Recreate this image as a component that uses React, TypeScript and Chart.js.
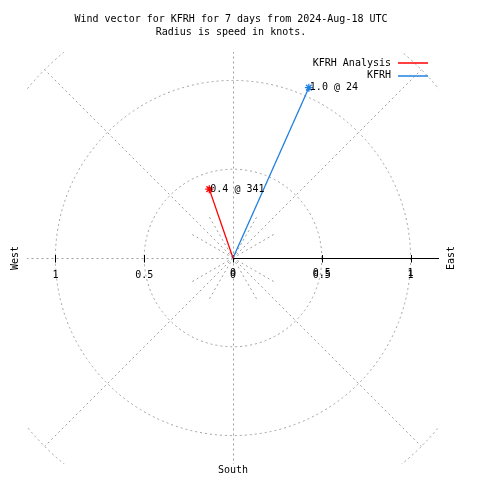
import React, { useEffect, useRef } from "react";
import { Chart, registerables } from "chart.js";

Chart.register(...registerables);

// ---- data ----
const titleLines = ["Wind vector for KFRH for 7 days from 2024-Aug-18 UTC", "Radius is speed in knots."];
const seriesNames = ["KFRH Analysis", "KFRH"];
const speeds = [0.41, 1.05];
const directions = [341, 24];
const vectorLabels = ["0.4 @ 341", "1.0 @ 24"];
const gridRadii = [0.5, 1, 1.5];
const xTickValues = [-1, -0.5, 0, 0.5, 1];
const xTickLabels = ["1", "0.5", "0", "0.5", "1"];
const rTickValues = [0, 0.5, 1];
const rTickLabels = ["0", "0.5", "1"];
const compassLabels = ["West", "East", "South"];

// ---- styles ----
const seriesColors = ["#ff0000", "#2080e0"];
const GRID = "#a0a0a0";
const FONT = "10px 'DejaVu Sans Mono', 'Liberation Mono', monospace";
const RANGE = 1.16;

const polarPlugin = {
  id: "polarDecor",
  beforeDatasetsDraw(chart: any) {
    const { ctx, chartArea } = chart;
    const xs = chart.scales.x;
    const ys = chart.scales.y;
    const cx = xs.getPixelForValue(0);
    const cy = ys.getPixelForValue(0);
    const unit = xs.getPixelForValue(1) - cx;
    ctx.save();
    ctx.beginPath();
    ctx.rect(chartArea.left, chartArea.top, chartArea.right - chartArea.left, chartArea.bottom - chartArea.top);
    ctx.clip();
    ctx.strokeStyle = GRID;
    ctx.lineWidth = 1;
    ctx.setLineDash([2, 3]);
    for (const r of gridRadii) {
      ctx.beginPath();
      ctx.arc(cx, cy, r * unit, 0, Math.PI * 2);
      ctx.stroke();
    }
    const rMax = gridRadii[gridRadii.length - 1];
    for (let a = 0; a < 360; a += 45) {
      if (a === 90) continue;
      const t = (a * Math.PI) / 180;
      ctx.beginPath();
      if (a % 90 === 0) {
        ctx.moveTo(Math.round(cx) + 0.5, Math.round(cy) + 0.5);
        ctx.lineTo(Math.round(cx + Math.sin(t) * rMax * unit) + 0.5, Math.round(cy - Math.cos(t) * rMax * unit) + 0.5);
      } else {
        ctx.moveTo(cx, cy);
        ctx.lineTo(cx + Math.sin(t) * rMax * unit, cy - Math.cos(t) * rMax * unit);
      }
      ctx.stroke();
    }
    for (let a = 30; a < 360; a += 30) {
      if (a % 90 === 0) continue;
      const t = (a * Math.PI) / 180;
      ctx.beginPath();
      ctx.moveTo(cx, cy);
      ctx.lineTo(cx + Math.sin(t) * 0.28 * unit, cy - Math.cos(t) * 0.28 * unit);
      ctx.stroke();
    }
    ctx.restore();

    ctx.save();
    ctx.strokeStyle = "#000";
    ctx.lineWidth = 1;
    const yAx = Math.round(cy) + 0.5;
    ctx.beginPath();
    ctx.moveTo(cx, yAx);
    ctx.lineTo(xs.getPixelForValue(RANGE), yAx);
    ctx.stroke();
    for (const v of xTickValues) {
      const px = Math.round(xs.getPixelForValue(v)) + 0.5;
      ctx.beginPath();
      ctx.moveTo(px, yAx - 3.5);
      ctx.lineTo(px, yAx + 4);
      ctx.stroke();
    }
    ctx.restore();
  },
  afterDraw(chart: any) {
    const { ctx } = chart;
    const xs = chart.scales.x;
    const ys = chart.scales.y;
    const cx = xs.getPixelForValue(0);
    const cy = ys.getPixelForValue(0);
    ctx.save();
    ctx.fillStyle = "#000";
    ctx.font = FONT;
    ctx.textBaseline = "middle";
    ctx.textAlign = "center";
    ctx.fillText(titleLines[0], 231, 19);
    ctx.fillText(titleLines[1], 231, 32);
    xTickValues.forEach((v, i) => {
      ctx.fillText(xTickLabels[i], xs.getPixelForValue(v), cy + 17);
    });
    rTickValues.forEach((v, i) => {
      ctx.fillText(rTickLabels[i], xs.getPixelForValue(v), cy + 15);
    });
    ctx.fillText(compassLabels[2], cx, 470);
    ctx.save();
    ctx.translate(15, cy);
    ctx.rotate(-Math.PI / 2);
    ctx.fillText(compassLabels[0], 0, 0);
    ctx.restore();
    ctx.save();
    ctx.translate(451, cy);
    ctx.rotate(-Math.PI / 2);
    ctx.fillText(compassLabels[1], 0, 0);
    ctx.restore();
    ctx.textAlign = "left";
    speeds.forEach((s, i) => {
      const t = (directions[i] * Math.PI) / 180;
      const px = xs.getPixelForValue(s * Math.sin(t));
      const py = ys.getPixelForValue(s * Math.cos(t));
      ctx.fillText(vectorLabels[i], px + 1, py);
    });
    ctx.textAlign = "right";
    seriesNames.forEach((n, i) => {
      const y = 63 + i * 12.5;
      ctx.fillStyle = "#000";
      ctx.fillText(n, 391, y);
      ctx.strokeStyle = seriesColors[i];
      ctx.lineWidth = 1.5;
      ctx.beginPath();
      ctx.moveTo(398, Math.round(y));
      ctx.lineTo(428, Math.round(y));
      ctx.stroke();
    });
    ctx.restore();
  },
};

export default function App() {
  const ref = useRef<HTMLCanvasElement | null>(null);
  useEffect(() => {
    document.body.style.margin = "0";
    const datasets = speeds.map((s, i) => {
      const t = (directions[i] * Math.PI) / 180;
      return {
        label: seriesNames[i],
        data: [
          { x: 0, y: 0 },
          { x: s * Math.sin(t), y: s * Math.cos(t) },
        ],
        showLine: true,
        borderColor: seriesColors[i],
        backgroundColor: seriesColors[i],
        borderWidth: 1.3,
        pointRadius: [0, 4],
        pointStyle: "star",
        pointBorderColor: seriesColors[i],
        pointBorderWidth: 1.3,
        clip: false,
      };
    });
    const chart = new Chart(ref.current as HTMLCanvasElement, {
      type: "scatter",
      data: { datasets } as any,
      options: {
        responsive: false,
        animation: false,
        layout: { padding: { left: 27, right: 41, top: 52, bottom: 16 } },
        scales: {
          x: { type: "linear", min: -RANGE, max: RANGE, display: false },
          y: { type: "linear", min: -RANGE, max: RANGE, display: false },
        },
        plugins: { legend: { display: false }, tooltip: { enabled: false } },
      } as any,
      plugins: [polarPlugin],
    });
    return () => chart.destroy();
  }, []);
  return (
    <div style={{ position: "fixed", left: 0, top: 0, width: 480, height: 480, background: "#fff" }}>
      <canvas ref={ref} width={480} height={480} />
    </div>
  );
}
